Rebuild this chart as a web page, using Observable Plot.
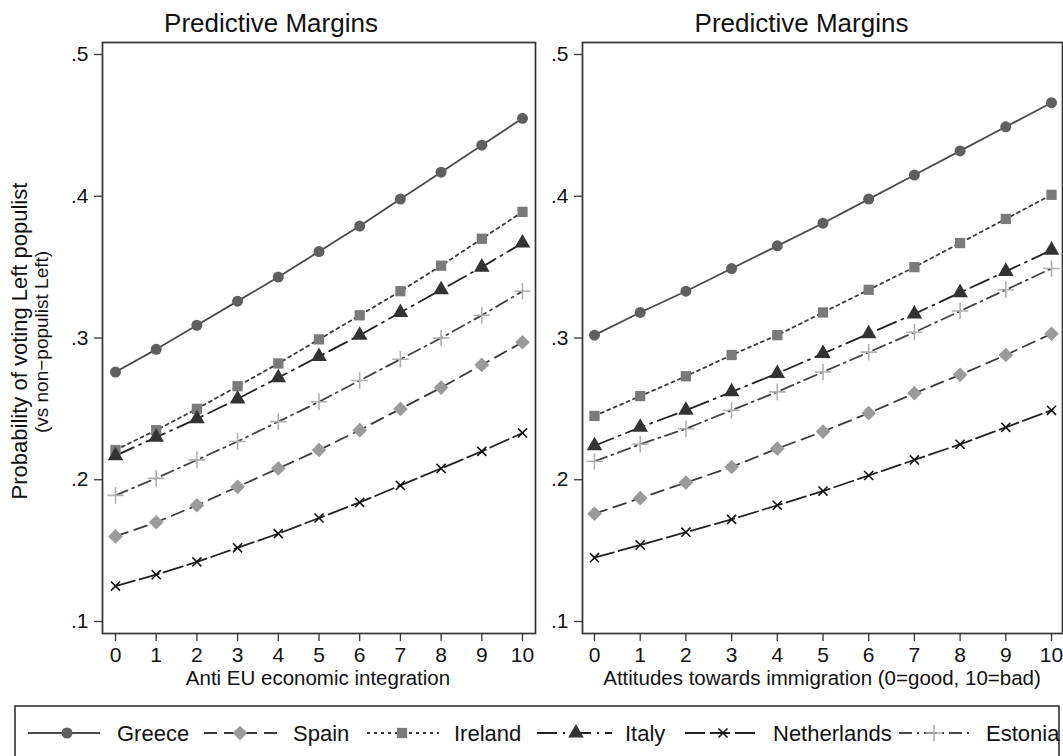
<!DOCTYPE html>
<html><head><meta charset="utf-8">
<script src="https://cdn.jsdelivr.net/npm/d3@7"></script>
<script src="https://cdn.jsdelivr.net/npm/@observablehq/plot@0.6"></script>
<style>
html,body{margin:0;padding:0;background:#fff;}
#root{position:relative;width:1063px;height:756px;overflow:hidden;background:#fff;}
#root > svg, #root > div{position:absolute;}
</style></head><body><div id="root"></div>
<script>
// ---------- data ----------
const countries = ["Greece", "Spain", "Ireland", "Italy", "Netherlands", "Estonia"];
const xValues = [0, 1, 2, 3, 4, 5, 6, 7, 8, 9, 10];
const yTicks = [0.1, 0.2, 0.3, 0.4, 0.5];
const panelTitles = ["Predictive Margins", "Predictive Margins"];
const xTitles = ["Anti EU economic integration", "Attitudes towards immigration (0=good, 10=bad)"];
const yTitle = "Probability of voting Left populist";
const ySubtitle = "(vs non\u2212populist Left)";

// Panel 1: Anti EU economic integration
const greeceEU      = [0.276, 0.292, 0.309, 0.326, 0.343, 0.361, 0.379, 0.398, 0.417, 0.436, 0.455];
const spainEU       = [0.160, 0.170, 0.182, 0.195, 0.208, 0.221, 0.235, 0.250, 0.265, 0.281, 0.297];
const irelandEU     = [0.221, 0.235, 0.250, 0.266, 0.282, 0.299, 0.316, 0.333, 0.351, 0.370, 0.389];
const italyEU       = [0.217, 0.230, 0.243, 0.257, 0.272, 0.287, 0.302, 0.318, 0.334, 0.350, 0.367];
const netherlandsEU = [0.125, 0.133, 0.142, 0.152, 0.162, 0.173, 0.184, 0.196, 0.208, 0.220, 0.233];
const estoniaEU     = [0.189, 0.201, 0.214, 0.227, 0.241, 0.255, 0.270, 0.285, 0.300, 0.316, 0.333];

// Panel 2: Attitudes towards immigration
const greeceImm      = [0.302, 0.318, 0.333, 0.349, 0.365, 0.381, 0.398, 0.415, 0.432, 0.449, 0.466];
const spainImm       = [0.176, 0.187, 0.198, 0.209, 0.222, 0.234, 0.247, 0.261, 0.274, 0.288, 0.303];
const irelandImm     = [0.245, 0.259, 0.273, 0.288, 0.302, 0.318, 0.334, 0.350, 0.367, 0.384, 0.401];
const italyImm       = [0.224, 0.237, 0.249, 0.262, 0.275, 0.289, 0.303, 0.317, 0.332, 0.347, 0.362];
const netherlandsImm = [0.145, 0.154, 0.163, 0.172, 0.182, 0.192, 0.203, 0.214, 0.225, 0.237, 0.249];
const estoniaImm     = [0.213, 0.225, 0.236, 0.249, 0.262, 0.276, 0.290, 0.304, 0.319, 0.334, 0.349];

const seriesEU  = [greeceEU, spainEU, irelandEU, italyEU, netherlandsEU, estoniaEU];
const seriesImm = [greeceImm, spainImm, irelandImm, italyImm, netherlandsImm, estoniaImm];

// ---------- styles ----------
const FONT = '"Liberation Sans", Arial, Helvetica, sans-serif';
const styleOf = {
  Greece:      {line: "#4a4a4a", dash: null,         symbol: "circle",   r: 5.5, fill: "#5f5f5f", stroke: "none"},
  Spain:       {line: "#3a3a3a", dash: "13,7",       symbol: "diamond2", r: 6.6, fill: "#9a9a9a", stroke: "none"},
  Ireland:     {line: "#3a3a3a", dash: "3,4",        symbol: "square",   r: 5.8, fill: "#7a7a7a", stroke: "none"},
  Italy:       {line: "#222222", dash: "20,6,2,6",   symbol: "triangle", r: 5.8, fill: "#333333", stroke: "none"},
  Netherlands: {line: "#222222", dash: "20,5",       symbol: "times",    r: 4.2, fill: "none",    stroke: "#111111"},
  Estonia:     {line: "#444444", dash: "13,5,2,5",   symbol: "plus",     r: 5.4, fill: "none",    stroke: "#b0b0b0"}
};

function rowsOf(series) {
  return countries.flatMap((c, i) => xValues.map((x, j) => ({country: c, x, y: series[i][j]})));
}

function panel(series, o) {
  const rows = rowsOf(series);
  const marks = [
    Plot.frame({stroke: "#333", strokeWidth: 1.7}),
    Plot.axisX({ticks: xValues, tickSize: 8, tickPadding: 6, label: null, fontSize: 21, stroke: "#333", strokeWidth: 1.3}),
    Plot.axisY({ticks: yTicks, tickSize: 8, tickPadding: 6, label: null, fontSize: 21, stroke: "#333", strokeWidth: 1.3,
      tickFormat: d => d3.format(".1f")(d).replace(/^0/, "")})
  ];
  for (const c of countries) {
    const s = styleOf[c];
    const data = rows.filter(d => d.country === c);
    marks.push(Plot.line(data, {x: "x", y: "y", stroke: s.line, strokeWidth: 1.8,
      strokeDasharray: s.dash || undefined}));
  }
  for (const c of countries) {
    const s = styleOf[c];
    const data = rows.filter(d => d.country === c);
    marks.push(Plot.dot(data, {x: "x", y: "y", symbol: s.symbol, r: s.r, fill: s.fill,
      stroke: s.stroke, strokeWidth: s.stroke === "none" ? 0 : 1.6}));
  }
  return Plot.plot({
    width: o.width, height: 700,
    marginLeft: o.ml, marginRight: o.mr, marginTop: 42, marginBottom: 67,
    x: {domain: [0, 10], insetLeft: o.il, insetRight: o.ir},
    y: {domain: [0.1, 0.5], insetTop: 12, insetBottom: 12},
    style: {fontFamily: FONT, fontSize: "21px", color: "#111", background: "transparent", overflow: "visible"},
    marks
  });
}

const root = document.getElementById("root");
const p1 = panel(seriesEU, {width: 545, ml: 102, mr: 10, il: 13, ir: 13});
p1.style.left = "0px"; p1.style.top = "0px";
root.appendChild(p1);
const p2 = panel(seriesImm, {width: 545, ml: 52, mr: 13, il: 12, ir: 11});
p2.style.left = "530px"; p2.style.top = "0px";
root.appendChild(p2);

// ---------- text overlay + legend ----------
const svg = d3.select(root).append("svg")
  .attr("width", 1063).attr("height", 756)
  .style("left", "0px").style("top", "0px")
  .style("font-family", FONT).style("pointer-events", "none");

svg.append("text").attr("x", 271).attr("y", 32).attr("text-anchor", "middle")
  .attr("font-size", 26).attr("fill", "#111").text(panelTitles[0]);
svg.append("text").attr("x", 801.5).attr("y", 32).attr("text-anchor", "middle")
  .attr("font-size", 26).attr("fill", "#111").text(panelTitles[1]);

svg.append("text").attr("x", 318).attr("y", 685).attr("text-anchor", "middle")
  .attr("font-size", 20.5).attr("fill", "#111").text(xTitles[0]);
svg.append("text").attr("x", 822).attr("y", 685).attr("text-anchor", "middle")
  .attr("font-size", 20.5).attr("fill", "#111").text(xTitles[1]);

svg.append("text").attr("transform", "translate(27,341) rotate(-90)").attr("text-anchor", "middle")
  .attr("font-size", 22).attr("fill", "#111").text(yTitle);
svg.append("text").attr("transform", "translate(48,342) rotate(-90)").attr("text-anchor", "middle")
  .attr("font-size", 19).attr("fill", "#111").text(ySubtitle);

// legend
svg.append("rect").attr("x", 15).attr("y", 706).attr("width", 1044).attr("height", 90)
  .attr("fill", "none").attr("stroke", "#333").attr("stroke-width", 1.6);

const legendPos = {
  Greece:      {x0: 28,  x1: 100, m: 67,  t: 117},
  Spain:       {x0: 204, x1: 282, m: 240, t: 293},
  Ireland:     {x0: 367, x1: 439, m: 402, t: 454},
  Italy:       {x0: 537, x1: 612, m: 576, t: 625},
  Netherlands: {x0: 685, x1: 756, m: 723, t: 773},
  Estonia:     {x0: 899, x1: 974, m: 934, t: 986}
};
const symMap = {circle: d3.symbolCircle, diamond2: d3.symbolDiamond2, square: d3.symbolSquare,
  triangle: d3.symbolTriangle, times: d3.symbolTimes, plus: d3.symbolPlus};
const ly = 733;
for (const c of countries) {
  const s = styleOf[c], p = legendPos[c];
  svg.append("line").attr("x1", p.x0).attr("x2", p.x1).attr("y1", ly).attr("y2", ly)
    .attr("stroke", s.line).attr("stroke-width", 1.8).attr("stroke-dasharray", s.dash);
  const size = Math.PI * s.r * s.r;
  svg.append("path").attr("transform", `translate(${p.m},${ly})`)
    .attr("d", d3.symbol(symMap[s.symbol], size)())
    .attr("fill", s.fill).attr("stroke", s.stroke).attr("stroke-width", s.stroke === "none" ? 0 : 1.6);
  svg.append("text").attr("x", p.t).attr("y", ly + 8).attr("font-size", 22).attr("fill", "#111").text(c);
}
</script></body></html>
